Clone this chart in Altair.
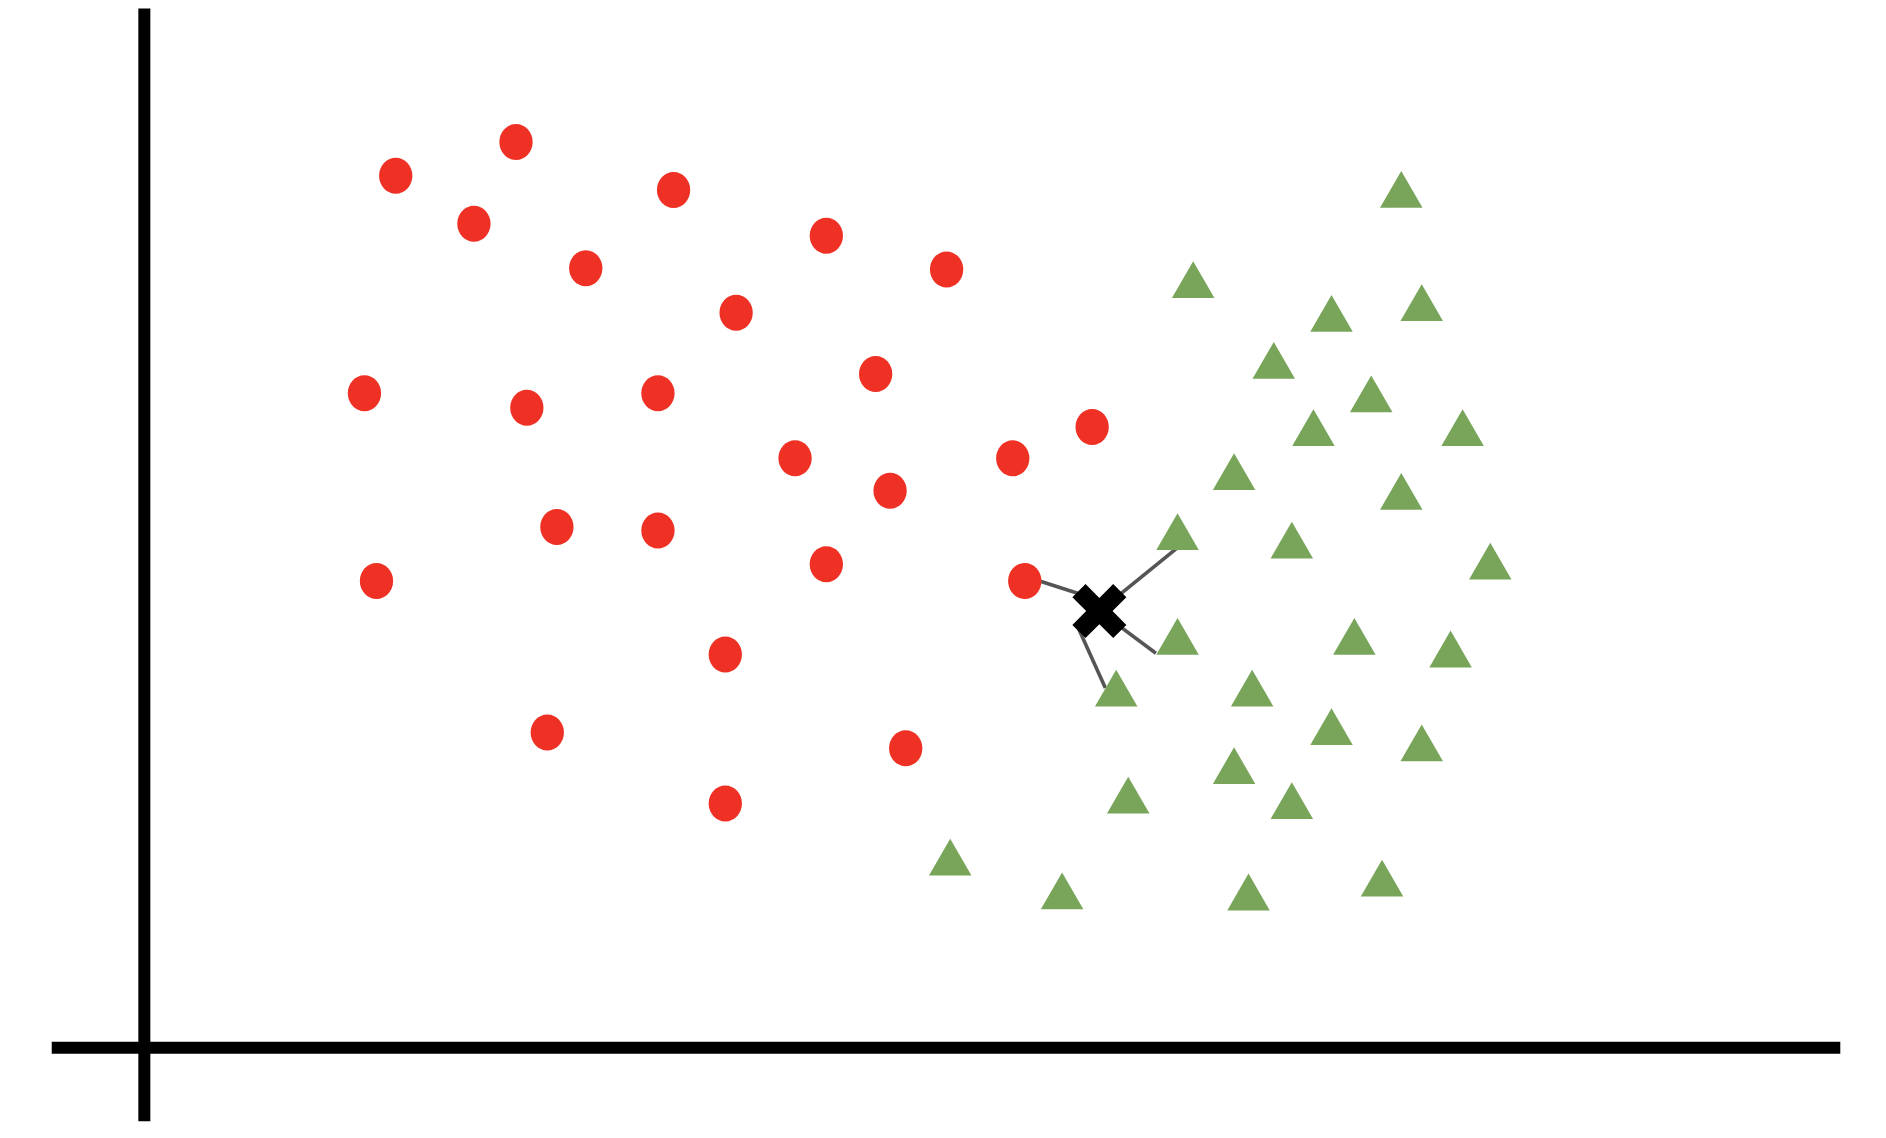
import math
import altair as alt
import pandas as pd

# Coordinates (units: origin at the axes' crossing)
red_x = [209, 309, 274, 440, 367, 567, 667, 492, 183, 318, 427, 608, 541, 620, 722, 788, 343, 427, 193, 567, 732, 483, 335, 633, 483]
red_y = [725, 753, 685, 713, 648, 675, 647, 611, 544, 532, 544, 560, 490, 463, 490, 516, 433, 430, 388, 402, 388, 327, 262, 249, 203]

green_x = [1045, 872, 987, 1062, 939, 1020, 972, 1096, 906, 1045, 859, 954, 1119, 859, 1006, 1086, 808, 921, 987, 1062, 906, 954, 818, 670, 763, 918, 1029]
green_y = [713.5, 638.5, 610.5, 619.5, 571.5, 543.5, 515.5, 515.5, 479, 462.5, 429, 422, 404.5, 342, 342, 331.5, 299, 299, 267, 253.5, 234.5, 205.5, 210, 158.5, 130.5, 129.5, 141]

query_x = [794]
query_y = [363]

link_x1 = [794, 794, 794, 776]
link_y1 = [372, 363, 363, 350]
link_x2 = [732, 858, 841, 799]
link_y2 = [392, 415, 328, 299]

axis_x1 = [0, -77]
axis_y1 = [864, 0]
axis_x2 = [0, 1410]
axis_y2 = [-61, 0]

X_DOMAIN = [-120, 1448]
Y_DOMAIN = [-75, 871]

xs = alt.Scale(domain=X_DOMAIN, nice=False, zero=False)
ys = alt.Scale(domain=Y_DOMAIN, nice=False, zero=False)
noax = None

def xenc(f):
    return alt.X(f, type="quantitative", scale=xs, axis=noax)

def yenc(f):
    return alt.Y(f, type="quantitative", scale=ys, axis=noax)

# custom X marker shape
L, s = 1.07, 0.345
plus = [(L, s), (s, s), (s, L), (-s, L), (-s, s), (-L, s), (-L, -s), (-s, -s), (-s, -L), (s, -L), (s, -s), (L, -s)]
pts = [((x - y) / math.sqrt(2), (x + y) / math.sqrt(2)) for x, y in plus]
x_path = "M " + " L ".join(f"{a:.4f} {b:.4f}" for a, b in pts) + " Z"

ellipse_path = "M -0.925 0 A 0.925 1 0 1 0 0.925 0 A 0.925 1 0 1 0 -0.925 0 Z"

axes_df = pd.DataFrame({"x": axis_x1, "y": axis_y1, "x2": axis_x2, "y2": axis_y2})
links_df = pd.DataFrame({"x": link_x1, "y": link_y1, "x2": link_x2, "y2": link_y2})
red_df = pd.DataFrame({"x": red_x, "y": red_y})
green_df = pd.DataFrame({"x": green_x, "y": green_y})
query_df = pd.DataFrame({"x": query_x, "y": query_y})

axes = alt.Chart(axes_df).mark_rule(color="#000000", strokeWidth=12, strokeCap="butt").encode(
    x=xenc("x"), y=yenc("y"), x2="x2", y2="y2")

links = alt.Chart(links_df).mark_rule(color="#555555", strokeWidth=3.6, strokeCap="butt").encode(
    x=xenc("x"), y=yenc("y"), x2="x2", y2="y2")

reds = alt.Chart(red_df).mark_point(shape=ellipse_path, filled=True, fill="#EE3124", opacity=1,
                                     size=1296, strokeWidth=0).encode(x=xenc("x"), y=yenc("y"))

greens = alt.Chart(green_df).mark_point(shape="triangle-up", filled=True, fill="#78A55A", opacity=1,
                                         size=1806, strokeWidth=0).encode(x=xenc("x"), y=yenc("y"))

query = alt.Chart(query_df).mark_point(shape=x_path, filled=True, fill="#000000", opacity=1,
                                        size=2916, strokeWidth=0).encode(x=xenc("x"), y=yenc("y"))

chart = alt.layer(axes, links, reds, greens, query).properties(
    width=1886, height=1138, autosize=alt.AutoSizeParams(type="none"), padding=0,
    background="#ffffff"
).configure_view(strokeWidth=0)

chart.save("out.html", embed_options={"renderer": "svg", "actions": False})
